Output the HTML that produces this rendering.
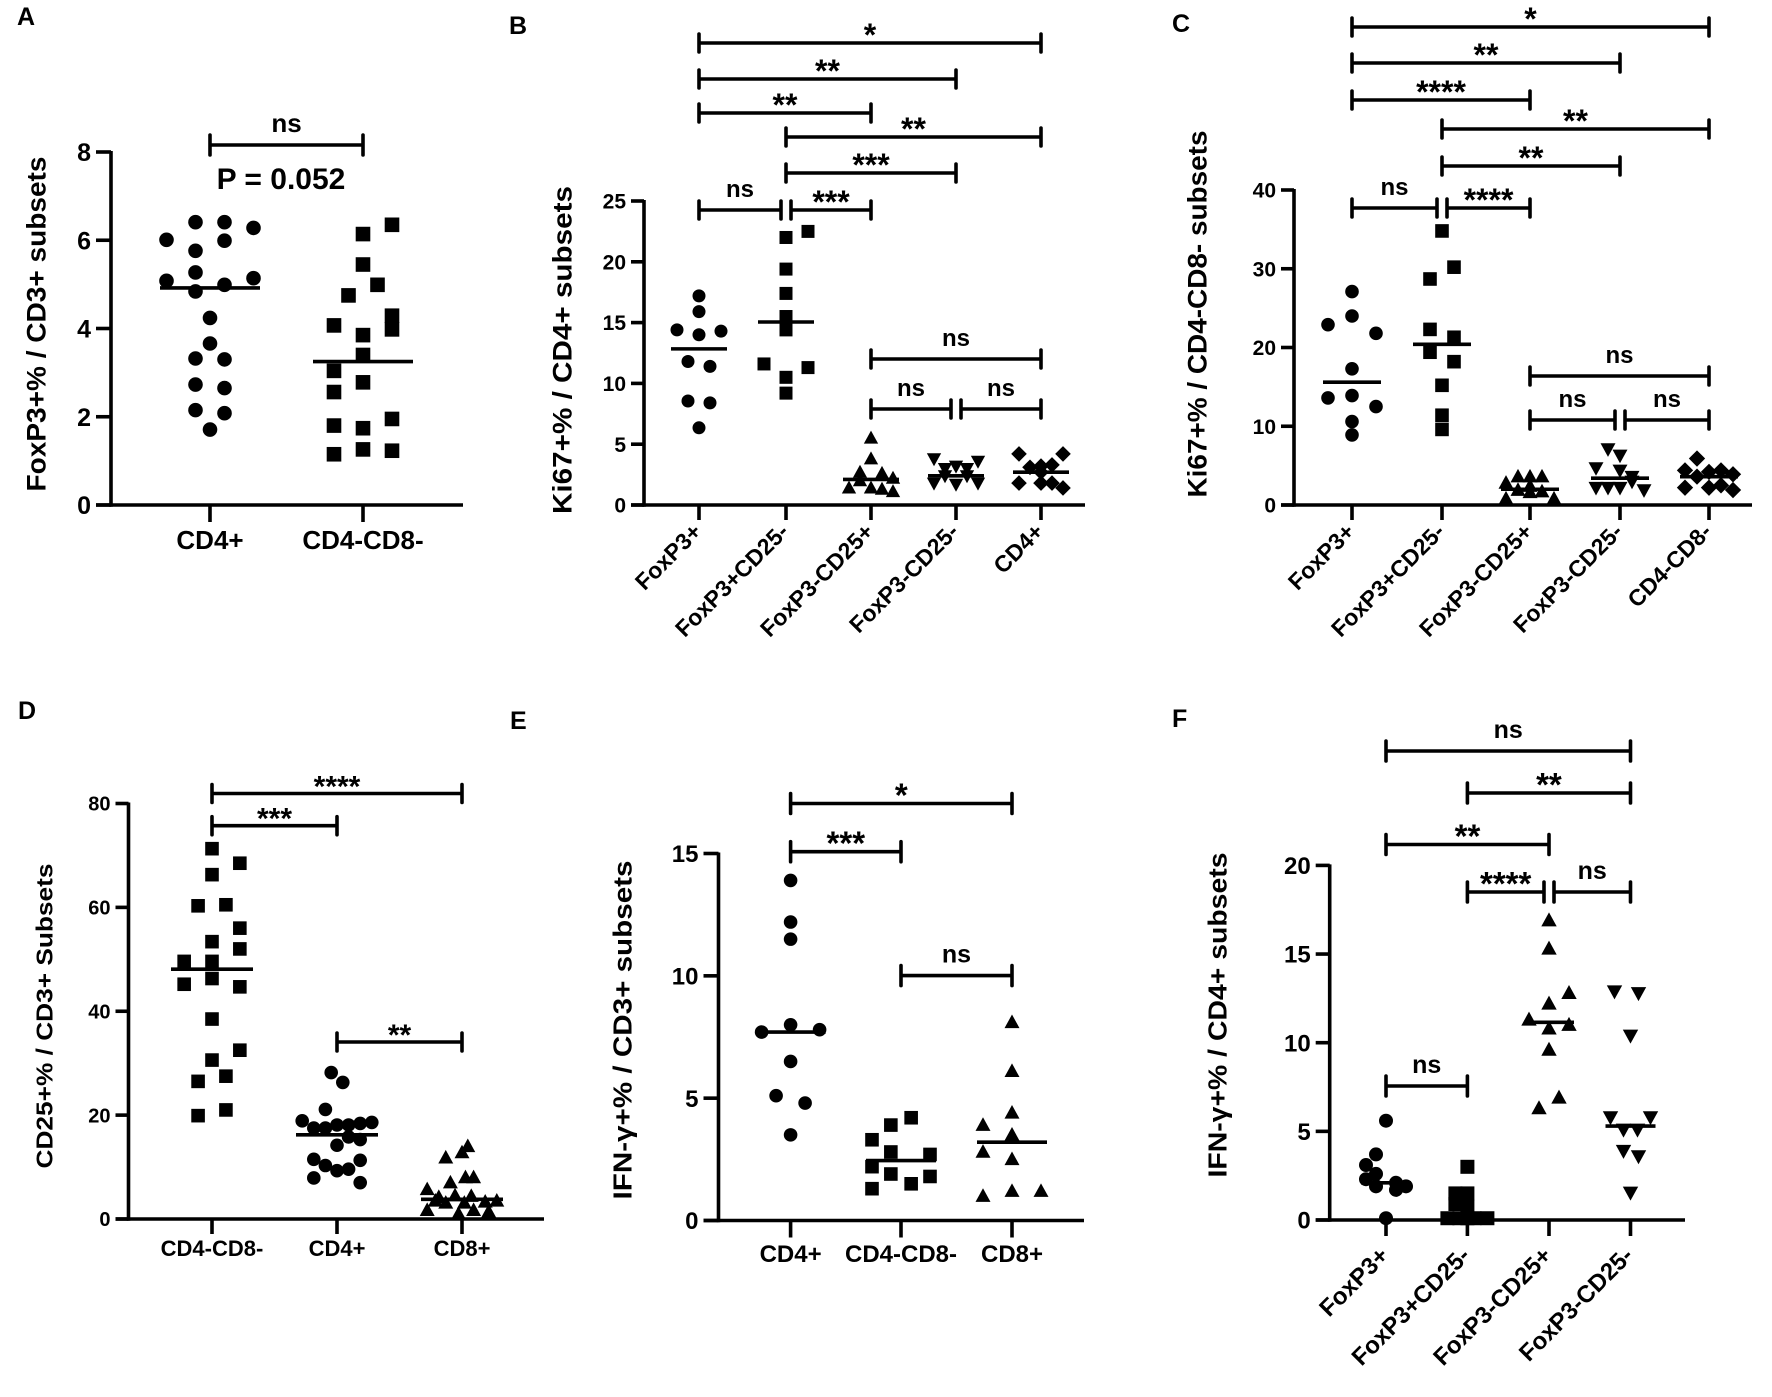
<!DOCTYPE html>
<html><head><meta charset="utf-8"><title>Scatter panels A–F</title>
<style>
html,body{margin:0;padding:0;background:#fff;}
svg{display:block;font-family:"Liberation Sans",Arial,sans-serif;font-weight:bold;}
</style></head>
<body>
<svg id="fig" xmlns="http://www.w3.org/2000/svg" width="1772" height="1397" viewBox="0 0 1772 1397">
<rect x="0" y="0" width="1772" height="1397" fill="#fff"/>
<text x="17" y="25" font-size="25">A</text>
<text x="509" y="34" font-size="25">B</text>
<text x="1172" y="32" font-size="25">C</text>
<text x="18" y="719" font-size="25">D</text>
<text x="510" y="729" font-size="25">E</text>
<text x="1172" y="727" font-size="25">F</text>
<text x="281" y="189" font-size="30" text-anchor="middle">P = 0.052</text>
</svg>
<script>
// ===== Panel A data =====
const aCats = ["CD4+", "CD4-CD8-"];
const aTicks = [0, 2, 4, 6, 8];
const aCD4 = [6.01, 6.41, 6.41, 6.28, 5.99, 5.76, 5.08, 5.27, 5.14, 4.99, 4.84, 4.24, 3.66, 3.32, 3.30, 2.73, 2.65, 2.15, 2.08, 1.71];
const aDN = [6.35, 6.14, 5.45, 4.99, 4.75, 4.07, 4.29, 3.85, 3.98, 3.40, 3.04, 2.78, 2.56, 1.95, 1.80, 1.74, 1.15, 1.26, 1.23];
const aMedians = [4.92, 3.25];
const aBrackets = [[0, 1, "ns"]];
// ===== Panel B data =====
const bCats = ["FoxP3+", "FoxP3+CD25-", "FoxP3-CD25+", "FoxP3-CD25-", "CD4+"];
const bTicks = [0, 5, 10, 15, 20, 25];
const bFoxP3 = [17.2, 15.9, 14.4, 14.0, 14.3, 11.8, 11.4, 8.55, 8.4, 6.35];
const bFoxP3CD25n = [22.0, 22.5, 19.4, 17.4, 15.5, 14.4, 11.6, 11.3, 10.5, 9.2];
const bFoxP3nCD25 = [5.5, 3.8, 2.7, 2.6, 2.2, 1.4, 1.4, 1.3, 1.1, 2.0];
const bFoxP3nCD25n = [3.8, 3.2, 3.6, 3.0, 3.0, 1.8, 1.7, 1.8, 2.4, 2.4];
const bCD4 = [4.2, 3.2, 4.2, 3.1, 3.3, 1.8, 1.8, 1.8, 1.4, 2.7];
const bMedians = [12.84, 15.05, 2.1, 2.4, 2.7];
const bBrackets = [[0, 4, "*"], [0, 3, "**"], [0, 2, "**"], [1, 4, "**"], [1, 3, "***"], [0, 1, "ns"], [1, 2, "***"], [2, 4, "ns"], [2, 3, "ns"], [3, 4, "ns"]];
// ===== Panel C data =====
const cCats = ["FoxP3+", "FoxP3+CD25-", "FoxP3-CD25+", "FoxP3-CD25-", "CD4-CD8-"];
const cTicks = [0, 10, 20, 30, 40];
const cFoxP3 = [27.1, 24.0, 22.9, 21.8, 17.3, 13.6, 13.9, 12.5, 10.6, 8.9];
const cFoxP3CD25n = [34.8, 30.2, 28.7, 22.3, 21.3, 19.4, 18.2, 15.2, 11.4, 9.6];
const cFoxP3nCD25 = [3.6, 3.6, 3.6, 2.8, 2.4, 1.9, 1.6, 1.7, 0.8, 0.8];
const cFoxP3nCD25n = [7.1, 6.3, 4.7, 4.4, 3.6, 3.0, 2.2, 2.2, 2.2, 1.9];
const cDN = [5.9, 4.4, 4.2, 4.4, 3.9, 2.2, 2.2, 2.5, 1.9, 3.6];
const cMedians = [15.6, 20.4, 2.0, 3.4, 3.6];
const cBrackets = [[0, 4, "*"], [0, 3, "**"], [0, 2, "****"], [1, 4, "**"], [1, 3, "**"], [0, 1, "ns"], [1, 2, "****"], [2, 4, "ns"], [2, 3, "ns"], [3, 4, "ns"]];
// ===== Panel D data =====
const dCats = ["CD4-CD8-", "CD4+", "CD8+"];
const dTicks = [0, 20, 40, 60, 80];
const dDN = [71.3, 68.5, 66.3, 60.3, 60.5, 56, 53.4, 52, 49.6, 49.6, 46.3, 45.2, 44.7, 38.5, 32.5, 30.6, 27.5, 26.5, 21, 19.9];
const dCD4 = [28.2, 26.3, 21.1, 18.9, 18.6, 17.5, 18.4, 18.1, 18.1, 17.5, 14.2, 15.8, 15.3, 11.5, 11.3, 10.3, 9.3, 9.6, 7.9, 7.0];
const dCD8 = [14, 12.8, 11.8, 7, 8, 8, 5.7, 4.2, 4.5, 4.4, 3.3, 3.5, 1.7, 1.0, 1.7, 1.4, 3.5, 3.1, 3.1];
const dMedians = [48.1, 16.2, 3.8];
const dBrackets = [[0, 2, "****"], [0, 1, "***"], [1, 2, "**"]];
// ===== Panel E data =====
const eCats = ["CD4+", "CD4-CD8-", "CD8+"];
const eTicks = [0, 5, 10, 15];
const eCD4 = [13.9, 12.2, 11.5, 7.7, 8.0, 7.8, 6.5, 5.1, 4.8, 3.5];
const eDN = [4.2, 3.9, 3.3, 2.8, 2.7, 2.2, 1.9, 1.8, 1.5, 1.3];
const eCD8 = [8.1, 6.1, 4.4, 3.9, 3.5, 2.8, 2.5, 1.0, 1.2, 1.2];
const eMedians = [7.7, 2.45, 3.2];
const eBrackets = [[0, 2, "*"], [0, 1, "***"], [1, 2, "ns"]];
// ===== Panel F data =====
const fCats = ["FoxP3+", "FoxP3+CD25-", "FoxP3-CD25+", "FoxP3-CD25-"];
const fTicks = [0, 5, 10, 15, 20];
const fFoxP3 = [5.6, 3.7, 3.1, 2.6, 2.3, 2.1, 1.9, 1.9, 1.7, 0.1];
const fFoxP3CD25n = [3.0, 1.5, 1.5, 0.9, 0.75, 0.1, 0.1, 0.1, 0.1, 0.1];
const fFoxP3nCD25 = [16.9, 15.3, 12.2, 12.8, 11.3, 10.8, 11.0, 9.6, 6.9, 6.3];
const fFoxP3nCD25n = [12.9, 12.8, 10.4, 5.8, 5.8, 5.1, 5.1, 3.9, 3.6, 1.55];
const fMedians = [2.1, 0.3, 11.15, 5.3];
const fBrackets = [[0, 3, "ns"], [1, 3, "**"], [0, 2, "**"], [1, 2, "****"], [2, 3, "ns"], [0, 1, "ns"]];

// ===== layout (pixel geometry, jitter slots) =====
const NS = "http://www.w3.org/2000/svg";
const svg = document.getElementById("fig");
function mk(tag, attrs, parent) {
  const el = document.createElementNS(NS, tag);
  for (const k in attrs) el.setAttribute(k, attrs[k]);
  (parent || svg).appendChild(el);
  return el;
}
const LW = 3.6;

function drawPanel(p) {
  const g = mk("g", {});
  
  
  const yScale = v => p.y0 - v * (p.y0 - p.yTopPx) / p.yTopVal;
  const ya = mk("line", { x1: p.axisX, y1: p.y0 + LW / 2, x2: p.axisX, y2: p.yTopPx - 1, stroke: "#000", "stroke-width": LW }, g);
  
  
  const xa = mk("line", { x1: p.axisX - p.tickLen, y1: p.y0, x2: p.xEnd, y2: p.y0, stroke: "#000", "stroke-width": LW }, g);
  
  
  p.ticks.forEach(t => {
    const yy = yScale(t);
    const tk = mk("line", { x1: p.axisX - p.tickLen, y1: yy, x2: p.axisX, y2: yy, stroke: "#000", "stroke-width": LW }, g);
    
    
    const tl = mk("text", { x: p.axisX - p.tickLen - 5, y: yy + p.tickFont * 0.36, "font-size": p.tickFont, "text-anchor": "end" }, g);
    tl.textContent = String(t);
    
    
  });
  const tt = mk("text", { x: 0, y: 0, "font-size": p.titleFont, "text-anchor": "middle",
    transform: "translate(" + (p.titleX + p.titleFont * 0.36) + "," + p.titleY + ") rotate(-90)",
    textLength: p.titleLen, lengthAdjust: "spacingAndGlyphs" }, g);
  tt.textContent = p.title;
  
  
  p.cats.forEach((c, i) => {
    const x = p.xs[i];
    const tk = mk("line", { x1: x, y1: p.y0, x2: x, y2: p.y0 + p.tickLen + 2, stroke: "#000", "stroke-width": LW }, g);
    
    
    let lbl;
    if (p.rotate) {
      lbl = mk("text", { x: 0, y: 0, "font-size": p.catFont, "text-anchor": "end",
        transform: "translate(" + (x + 4) + "," + p.catY + ") rotate(-45)" }, g);
    } else {
      lbl = mk("text", { x: x, y: p.catY, "font-size": p.catFont, "text-anchor": "middle" }, g);
    }
    lbl.textContent = c;
    
    
  });
  p.series.forEach((vals, si) => {
    const cx0 = p.xs[si];
    const shape = p.markers[si];
    vals.forEach((v, k) => {
      const cx = cx0 + p.jit[si][k] * p.slot;
      const cy = yScale(v);
      const r = p.r;
      let el;
      if (shape === "circle") el = mk("circle", { cx: cx, cy: cy, r: r, fill: "#000" }, g);
      else if (shape === "square") el = mk("rect", { x: cx - r, y: cy - r, width: 2 * r, height: 2 * r, fill: "#000" }, g);
      else if (shape === "tri") el = mk("polygon", { points: [cx, cy - r * 1.15, cx - r * 1.1, cy + r * 0.85, cx + r * 1.1, cy + r * 0.85].join(","), fill: "#000" }, g);
      else if (shape === "itri") el = mk("polygon", { points: [cx, cy + r * 1.15, cx - r * 1.1, cy - r * 0.85, cx + r * 1.1, cy - r * 0.85].join(","), fill: "#000" }, g);
      else el = mk("polygon", { points: [cx, cy - r * 1.2, cx + r * 1.2, cy, cx, cy + r * 1.2, cx - r * 1.2, cy].join(","), fill: "#000" }, g);
      
      
    });
    const my = yScale(p.medians[si]);
    const ml = mk("line", { x1: cx0 - p.medHalf, y1: my, x2: cx0 + p.medHalf, y2: my, stroke: "#000", "stroke-width": LW }, g);
    
    
  });
  p.brackets.forEach((b, k) => {
    const yb = p.brY[k];
    const ends = p.brackets.filter((o, m) => m !== k && p.brY[m] === yb);
    const leftShared = ends.some(o => o[1] === b[0]);
    const rightShared = ends.some(o => o[0] === b[1]);
    const x1 = p.xs[b[0]] + (leftShared ? 5 : 0);
    const x2 = p.xs[b[1]] - (rightShared ? 5 : 0);
    const bg = mk("g", {}, g);
    
    
    mk("line", { x1: x1, y1: yb, x2: x2, y2: yb, stroke: "#000", "stroke-width": LW }, bg);
    mk("line", { x1: x1, y1: yb - p.capH, x2: x1, y2: yb + p.capH, stroke: "#000", "stroke-width": LW, "stroke-linecap": "round" }, bg);
    mk("line", { x1: x2, y1: yb - p.capH, x2: x2, y2: yb + p.capH, stroke: "#000", "stroke-width": LW, "stroke-linecap": "round" }, bg);
    const isStar = b[2].indexOf("*") >= 0;
    const t = mk("text", { x: (x1 + x2) / 2, y: isStar ? yb + 3 : yb - 13, "font-size": isStar ? p.starFont : p.nsFont, "text-anchor": "middle" }, bg);
    t.textContent = b[2];
    
    
  });
}

drawPanel({ id: "a", axisX: 111, y0: 505, yTopVal: 8, yTopPx: 152, xEnd: 463, tickLen: 15, ticks: aTicks,
  xs: [210, 363], cats: aCats, rotate: false, catY: 549, catFont: 26, tickFont: 25,
  title: "FoxP3+% / CD3+ subsets", titleX: 36, titleY: 324, titleLen: 335, titleFont: 27,
  series: [aCD4, aDN], markers: ["circle", "square"], r: 7.3, slot: 14.5, medHalf: 50, medians: aMedians,
  jit: [[-3, -1, 1, 3, 1, -1, -3, -1, 3, 1, -1, 0, 0, -1, 1, -1, 1, -1, 1, 0],
        [2, 0, 0, 1, -1, -2, 2, 0, 2, 0, -2, 0, -2, 2, -2, 0, -2, 0, 2]],
  brackets: aBrackets, brY: [145], capH: 10, nsFont: 26, starFont: 34 });

drawPanel({ id: "b", axisX: 644, y0: 505, yTopVal: 25, yTopPx: 201, xEnd: 1085, tickLen: 13, ticks: bTicks,
  xs: [699, 786, 871, 956, 1041], cats: bCats, rotate: true, catY: 533, catFont: 23, tickFont: 21,
  title: "Ki67+% / CD4+ subsets", titleX: 562, titleY: 350, titleLen: 328, titleFont: 27,
  series: [bFoxP3, bFoxP3CD25n, bFoxP3nCD25, bFoxP3nCD25n, bCD4], markers: ["circle", "square", "tri", "itri", "diamond"],
  r: 6.5, slot: 11, medHalf: 28, medians: bMedians,
  jit: [[0, 0, -2, 0, 2, -1, 1, -1, 1, 0], [0, 2, 0, 0, 0, 0, -2, 2, 0, 0], [0, 0, -1, 1, 2, -2, 0, 1, 2, -1],
        [-2, 0, 2, -1, 1, -2, 0, 2, -1, 1], [-2, 0, 2, -1, 1, -2, 0, 1, 2, 0]],
  brackets: bBrackets, brY: [43, 79, 113, 137, 173, 210, 210, 359, 409, 409], capH: 9, nsFont: 24, starFont: 32 });

drawPanel({ id: "c", axisX: 1294, y0: 505, yTopVal: 40, yTopPx: 190, xEnd: 1752, tickLen: 13, ticks: cTicks,
  xs: [1352, 1442, 1530, 1620, 1709], cats: cCats, rotate: true, catY: 533, catFont: 23, tickFont: 21,
  title: "Ki67+% / CD4-CD8-  subsets", titleX: 1197, titleY: 314, titleLen: 367, titleFont: 27,
  series: [cFoxP3, cFoxP3CD25n, cFoxP3nCD25, cFoxP3nCD25n, cDN], markers: ["circle", "square", "tri", "itri", "diamond"],
  r: 6.8, slot: 12, medHalf: 29, medians: cMedians,
  jit: [[0, 0, -2, 2, 0, -2, 0, 2, 0, 0], [0, 1, -1, -1, 1, -1, 1, 0, 0, 0], [-1, 0, 1, -2, 0, -1, 0, 1, -2, 2],
        [-1, 0, -2, 0, 1, 1, -2, -1, 0, 2], [-1, -2, 0, 1, 2, -2, 0, 1, 2, -1]],
  brackets: cBrackets, brY: [27, 63, 100, 129, 166, 208, 208, 376, 420, 420], capH: 9, nsFont: 24, starFont: 32 });

drawPanel({ id: "d", axisX: 128.5, y0: 1219, yTopVal: 80, yTopPx: 803.5, xEnd: 544, tickLen: 13, ticks: dTicks,
  xs: [212, 337, 462], cats: dCats, rotate: false, catY: 1256, catFont: 22, tickFont: 20,
  title: "CD25+% / CD3+ Subsets", titleX: 44, titleY: 1016, titleLen: 305, titleFont: 23,
  series: [dDN, dCD4, dCD8], markers: ["square", "circle", "tri"], r: 6.8, slot: 11.6, medHalf: 41, medians: dMedians,
  jit: [[0, 2.4, 0, -1.2, 1.2, 2.4, 0, 2.4, -2.4, 0, 0, -2.4, 2.4, 0, 2.4, 0, 1.2, -1.2, 1.2, -1.2],
        [-0.5, 0.5, -1, -3, 3, -2, 2, 1, 0, -1, 0, 1, 2, -2, 2, -1, 0, 1, -2, 2],
        [0.5, 0, -1.4, -1, 0.3, 1, -3, -2, -0.6, 0.8, 2, 3, -3, -0.3, 1, 2.3, -2.3, -1.4, 0.2]],
  brackets: dBrackets, brY: [793.5, 825.7, 1042], capH: 9, nsFont: 22, starFont: 30 });

drawPanel({ id: "e", axisX: 718.5, y0: 1220.5, yTopVal: 15, yTopPx: 853.5, xEnd: 1084, tickLen: 15, ticks: eTicks,
  xs: [790.6, 901, 1012], cats: eCats, rotate: false, catY: 1262, catFont: 24, tickFont: 24,
  title: "IFN-γ+% / CD3+ subsets", titleX: 622, titleY: 1030, titleLen: 339, titleFont: 26,
  series: [eCD4, eDN, eCD8], markers: ["circle", "square", "tri"], r: 6.8, slot: 14.5, medHalf: 35, medians: eMedians,
  jit: [[0, 0, 0, -2, 0, 2, 0, -1, 1, 0], [0.7, -0.7, -2, -0.7, 2, -2, -0.7, 2, 0.7, -2], [0, 0, 0, -2, 0, -2, 0, -2, 0, 2]],
  brackets: eBrackets, brY: [803.5, 851.7, 975.6], capH: 10, nsFont: 25, starFont: 33 });

drawPanel({ id: "f", axisX: 1329.7, y0: 1220, yTopVal: 20, yTopPx: 865.4, xEnd: 1685, tickLen: 14, ticks: fTicks,
  xs: [1386, 1467.4, 1549, 1630.5], cats: fCats, rotate: true, catY: 1257, catFont: 24, tickFont: 24,
  title: "IFN-γ+% / CD4+ subsets", titleX: 1217, titleY: 1015, titleLen: 325, titleFont: 26,
  series: [fFoxP3, fFoxP3CD25n, fFoxP3nCD25, fFoxP3nCD25n], markers: ["circle", "square", "tri", "itri"],
  r: 7, slot: 10, medHalf: 25, medians: fMedians,
  jit: [[0, -1, -2, -1, -2, 1, -1, 2, 1, 0], [0, -1.2, 0, -1.2, 0, -2, -0.8, 0.7, 2, 0],
        [0, 0, 0, 2, -2, 0, 2, 0, 1, -1], [-1.6, 0.8, 0, -2, 2, -0.7, 0.7, -0.7, 0.8, 0]],
  brackets: fBrackets, brY: [751, 793, 844.5, 892, 892, 1086], capH: 10, nsFont: 25, starFont: 33 });
</script>
</body></html>
